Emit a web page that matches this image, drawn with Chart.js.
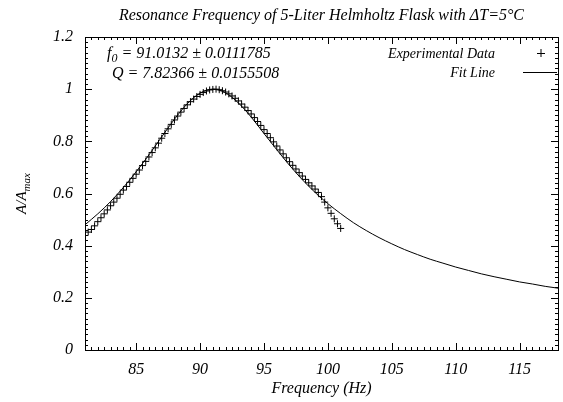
<!DOCTYPE html>
<html>
<head>
<meta charset="utf-8">
<script src="https://cdn.jsdelivr.net/npm/chart.js@4/dist/chart.umd.min.js"></script>
<style>
  html, body { margin: 0; padding: 0; background: #fff; }
  #wrap { width: 563px; height: 402px; }
</style>
</head>
<body>
<div id="wrap"><canvas id="c" width="563" height="402"></canvas></div>
<script>
// values
const xTicks = [85, 90, 95, 100, 105, 110, 115];
const yTicks = [0, 0.2, 0.4, 0.6, 0.8, 1, 1.2];

const expFreq = [
  81.25, 81.5, 81.75, 82, 82.25, 82.5, 82.75, 83, 83.25, 83.5, 83.75, 84,
  84.25, 84.5, 84.75, 85, 85.25, 85.5, 85.75, 86, 86.25, 86.5, 86.75, 87,
  87.25, 87.5, 87.75, 88, 88.25, 88.5, 88.75, 89, 89.25, 89.5, 89.75, 90,
  90.25, 90.5, 90.75, 91, 91.25, 91.5, 91.75, 92, 92.25, 92.5, 92.75, 93,
  93.25, 93.5, 93.75, 94, 94.25, 94.5, 94.75, 95, 95.25, 95.5, 95.75, 96,
  96.25, 96.5, 96.75, 97, 97.25, 97.5, 97.75, 98, 98.25, 98.5, 98.75, 99,
  99.25, 99.5, 99.75, 100, 100.25, 100.5, 100.75, 101
];
const expAmp = [
  0.452, 0.462, 0.476, 0.492, 0.507, 0.522, 0.537, 0.553, 0.567, 0.582, 0.597, 0.613,
  0.627, 0.643, 0.658, 0.674, 0.690, 0.707, 0.723, 0.740, 0.757, 0.775, 0.793, 0.812,
  0.830, 0.848, 0.865, 0.882, 0.897, 0.912, 0.926, 0.940, 0.952, 0.962, 0.972, 0.980,
  0.987, 0.993, 0.997, 0.999, 1.000, 0.998, 0.994, 0.989, 0.982, 0.974, 0.965, 0.955,
  0.943, 0.931, 0.918, 0.905, 0.891, 0.876, 0.861, 0.845, 0.830, 0.814, 0.798, 0.782,
  0.767, 0.752, 0.737, 0.722, 0.708, 0.694, 0.680, 0.667, 0.654, 0.641, 0.629, 0.617,
  0.604, 0.588, 0.567, 0.545, 0.524, 0.503, 0.484, 0.466
];

const fitFreq = [
  81, 82, 83, 84, 85, 86, 87, 88, 89, 90, 91, 92, 93, 94, 95, 96, 97, 98, 99,
  100, 101, 102, 103, 104, 105, 106, 107, 108, 109, 110, 111, 112, 113, 114,
  115, 116, 117, 118
];
const fitAmp = [
  0.480, 0.522, 0.569, 0.623, 0.683, 0.748, 0.817, 0.885, 0.944, 0.985, 1.000,
  0.986, 0.947, 0.893, 0.830, 0.768, 0.708, 0.653, 0.604, 0.561, 0.523, 0.488,
  0.458, 0.431, 0.407, 0.385, 0.366, 0.348, 0.333, 0.318, 0.305, 0.292, 0.281,
  0.271, 0.261, 0.253, 0.244, 0.237
];

const serif = '"Liberation Serif", "DejaVu Serif", serif';

// gnuplot-like frame, inward ticks and text
const decor = {
  id: 'decor',
  afterDraw(chart) {
    const ctx = chart.ctx;
    const a = chart.chartArea;
    const xs = chart.scales.x, ys = chart.scales.y;
    ctx.save();
    ctx.strokeStyle = '#000';
    ctx.lineWidth = 1;
    ctx.strokeRect(Math.round(a.left) + 0.5, Math.round(a.top) + 0.5,
      Math.round(a.right - a.left), Math.round(a.bottom - a.top));

    ctx.beginPath();
    for (let v = 81; v <= 118.001; v += 0.5) {
      const px = Math.round(xs.getPixelForValue(v)) + 0.5;
      const len = xTicks.includes(v) ? 7 : 3;
      ctx.moveTo(px, a.bottom); ctx.lineTo(px, a.bottom - len);
      ctx.moveTo(px, a.top); ctx.lineTo(px, a.top + len);
    }
    for (let i = 0; i <= 60; i++) {
      const v = i * 0.02;
      const py = Math.round(ys.getPixelForValue(v)) + 0.5;
      const len = i % 10 === 0 ? 7 : 3;
      ctx.moveTo(a.left, py); ctx.lineTo(a.left + len, py);
      ctx.moveTo(a.right, py); ctx.lineTo(a.right - len, py);
    }
    ctx.stroke();

    ctx.fillStyle = '#000';
    ctx.textBaseline = 'alphabetic';

    // title
    ctx.font = 'italic 16px ' + serif;
    ctx.textAlign = 'center';
    ctx.fillText('Resonance Frequency of 5-Liter Helmholtz Flask with \u0394T=5\u00b0C',
      (a.left + a.right) / 2, 20);

    // fit parameters
    ctx.textAlign = 'left';
    ctx.font = 'italic 16px ' + serif;
    let x = 107;
    ctx.fillText('f', x, 58);
    x += ctx.measureText('f').width;
    ctx.font = 'italic 12px ' + serif;
    ctx.fillText('0', x, 62);
    x += ctx.measureText('0').width;
    ctx.font = 'italic 16px ' + serif;
    ctx.fillText(' = 91.0132 \u00b1 0.0111785', x, 58);
    ctx.fillText('Q = 7.82366 \u00b1 0.0155508', 112, 78);

    // key
    ctx.font = 'italic 14px ' + serif;
    ctx.textAlign = 'right';
    ctx.fillText('Experimental Data', 495, 58);
    ctx.fillText('Fit Line', 495, 77);
    ctx.beginPath();
    ctx.moveTo(541, 49); ctx.lineTo(541, 57);
    ctx.moveTo(537, 53.5); ctx.lineTo(545, 53.5);
    ctx.moveTo(523, 72.5); ctx.lineTo(557, 72.5);
    ctx.stroke();

    // axis titles
    ctx.textAlign = 'center';
    ctx.font = 'italic 16px ' + serif;
    ctx.fillText('Frequency (Hz)', (a.left + a.right) / 2, 393);

    ctx.translate(26, (a.top + a.bottom) / 2);
    ctx.rotate(-Math.PI / 2);
    const main = 'A/A';
    ctx.font = 'italic 11px ' + serif;
    const subW = ctx.measureText('max').width;
    ctx.font = 'italic 15px ' + serif;
    const mainW = ctx.measureText(main).width;
    const start = -(mainW + subW) / 2;
    ctx.textAlign = 'left';
    ctx.fillText(main, start, 0);
    ctx.font = 'italic 11px ' + serif;
    ctx.fillText('max', start + mainW, 4);
    ctx.restore();
  }
};

new Chart(document.getElementById('c'), {
  type: 'scatter',
  data: {
    datasets: [
      {
        label: 'Fit Line',
        data: fitFreq.map((f, i) => ({ x: f, y: fitAmp[i] })),
        showLine: true,
        borderColor: '#000',
        borderWidth: 1,
        pointRadius: 0,
        cubicInterpolationMode: 'monotone'
      },
      {
        label: 'Experimental Data',
        data: expFreq.map((f, i) => ({ x: f, y: expAmp[i] })),
        showLine: false,
        pointStyle: 'cross',
        pointRadius: 3.5,
        borderColor: '#000',
        borderWidth: 1
      }
    ]
  },
  options: {
    responsive: false,
    animation: false,
    layout: { padding: { top: 37, right: 2, left: 0, bottom: 0 } },
    plugins: { legend: { display: false }, tooltip: { enabled: false }, title: { display: false } },
    scales: {
      x: {
        type: 'linear',
        min: 81,
        max: 118,
        afterFit: s => { s.height = 52; },
        afterBuildTicks: s => { s.ticks = xTicks.map(v => ({ value: v })); },
        grid: { display: false, drawTicks: false },
        border: { display: false },
        ticks: {
          padding: 10,
          color: '#000',
          callback: v => String(v),
          font: { family: serif, size: 16, style: 'italic' }
        }
      },
      y: {
        min: 0,
        max: 1.2,
        afterFit: s => { s.width = 85; },
        afterBuildTicks: s => { s.ticks = yTicks.map(v => ({ value: v })); },
        grid: { display: false, drawTicks: false },
        border: { display: false },
        ticks: {
          padding: 12,
          color: '#000',
          callback: v => String(v),
          font: { family: serif, size: 16, style: 'italic' }
        }
      }
    }
  },
  plugins: [decor]
});
</script>
</body>
</html>
